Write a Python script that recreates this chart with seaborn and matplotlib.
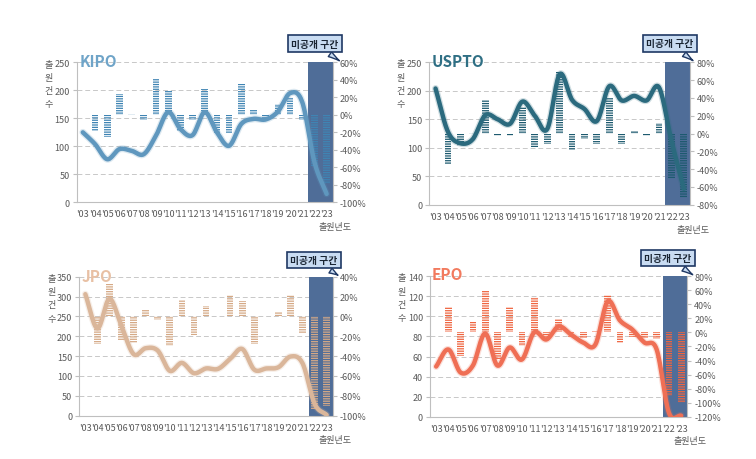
import numpy as np
import matplotlib
matplotlib.use("Agg")
import matplotlib.pyplot as plt
import matplotlib.patheffects as pe
import seaborn as sns

sns.set_style("white")
plt.rcParams['font.family'] = ['Noto Sans CJK KR', 'DejaVu Sans']
plt.rcParams['axes.unicode_minus'] = False
plt.rcParams['hatch.linewidth'] = 0.9

# --- data ---
years = ["'03", "'04", "'05", "'06", "'07", "'08", "'09", "'10", "'11", "'12", "'13",
         "'14", "'15", "'16", "'17", "'18", "'19", "'20", "'21", "'22", "'23"]

kipo_counts = [125, 104, 77, 95, 92, 86, 119, 161, 131, 120, 161, 125, 101, 140, 149, 148, 162, 195, 179, 72, 15]
kipo_growth = [0, -19, -25, 24, 0.5, -6, 41, 28, -18, -6, 30, -21, -21, 35, 6, -4, 12, 20, -6, -59, -79]

uspto_counts = [204, 128, 108, 115, 157, 150, 142, 181, 156, 133, 229, 184, 168, 147, 208, 183, 191, 183, 206, 113, 28]
uspto_growth = [0, -34, -14, 1, 38, -3, -3, 30, -15, -12, 70, -18, -6, -12, 40, -12, 3, -3, 12, -51, -72]

jpo_counts = [306, 220, 294, 225, 155, 170, 164, 113, 133, 107, 119, 118, 143, 168, 116, 119, 122, 149, 132, 30, 2]
jpo_growth = [0, -28, 33, -24, -27, 7, -4, -30, 17, -19, 10, 0.5, 22, 16, -28, 0.5, 4, 22, -17, -93, -90]

epo_counts = [50, 67, 44, 51, 83, 51, 69, 57, 84, 77, 90, 82, 74, 72, 115, 96, 87, 74, 67, 4, 1]
epo_growth = [0, 36, -34, 15, 61, -39, 36, -19, 50, -7, 19, -7, -8, 2, 53, -15, -7, -8, -9, -90, -100]

GRAY = '#595959'
SPINE = '#bfbfbf'
SHADE = '#4f6d98'


def smooth(vals, steps=16):
    # catmull-rom curve through the points (like Excel's smoothed line)
    y = np.asarray(vals, dtype=float)
    p = np.concatenate([[2 * y[0] - y[1]], y, [2 * y[-1] - y[-2]]])
    xs, ys = [], []
    t = np.linspace(0, 1, steps, endpoint=False)
    for i in range(len(y) - 1):
        p0, p1, p2, p3 = p[i], p[i + 1], p[i + 2], p[i + 3]
        seg = 0.5 * (2 * p1 + (-p0 + p2) * t + (2 * p0 - 5 * p1 + 4 * p2 - p3) * t ** 2
                     + (-p0 + 3 * p1 - 3 * p2 + p3) * t ** 3)
        xs.extend(i + t)
        ys.extend(seg)
    xs.append(len(y) - 1)
    ys.append(y[-1])
    return np.array(xs), np.array(ys)


def panel(fig, rect, name, counts, growth, lmax, lstep, rmin, rmax,
          line_c, bar_c, title_c, box_xy, tip_x, title_xy):
    ax = fig.add_axes(rect)
    axr = ax.twinx()
    axl = fig.add_axes(rect, sharex=ax, sharey=ax, label=name + "_line")
    axl.patch.set_visible(False)
    axl.axis("off")

    idx = np.arange(len(years))

    # grid + unpublished zone
    ax.set_axisbelow(True)
    ax.yaxis.grid(True, linestyle=(0, (5, 3)), color='#c8c8c8', lw=0.7)
    ax.axvspan(18.5, 20.5, color=SHADE, lw=0, zorder=2)

    # growth bars (right axis)
    sns.barplot(x=idx, y=growth, ax=axr, native_scale=True, width=0.55, color=bar_c)
    for p in axr.patches:
        p.set_facecolor('none')
        p.set_edgecolor(bar_c)
        p.set_hatch('-------')
        p.set_linewidth(0)

    # application counts (left axis), smoothed
    sx, sy = smooth(counts)
    sns.lineplot(x=sx, y=sy, ax=axl, color=line_c, lw=3.2, sort=False,
                 path_effects=[pe.Stroke(linewidth=5.0, foreground=line_c, alpha=0.22), pe.Normal()])

    ax.set_xlim(-0.5, 20.5)
    ax.set_ylim(0, lmax)
    ax.set_yticks(np.arange(0, lmax + 1, lstep))
    axr.set_ylim(rmin, rmax)
    rt = np.arange(rmin, rmax + 1, 20)
    axr.set_yticks(rt)
    axr.set_yticklabels([f"{v}%" for v in rt])

    ax.set_xticks(idx)
    ax.set_xticklabels(years)
    ax.set_xticks(np.arange(-0.5, 21, 1), minor=True)
    ax.tick_params(axis='x', which='major', length=0, labelsize=6.5, colors=GRAY, pad=5)
    ax.tick_params(axis='x', which='minor', length=3, color=SPINE, width=0.8)
    ax.tick_params(axis='y', length=3, color=SPINE, width=0.8, labelsize=6.5, colors=GRAY, pad=2)
    axr.tick_params(axis='y', length=3, color=SPINE, width=0.8, labelsize=6.5, colors=GRAY, pad=2)
    axr.set_xlabel("")
    axr.set_ylabel("")

    for s in ['top', 'right']:
        ax.spines[s].set_visible(False)
    for s in ['left', 'bottom']:
        ax.spines[s].set_color(SPINE)
        ax.spines[s].set_linewidth(0.8)
    for s in ['top', 'left', 'bottom']:
        axr.spines[s].set_visible(False)
    axr.spines['right'].set_color(SPINE)
    axr.spines['right'].set_linewidth(0.8)

    ax.set_ylabel("출\n원\n건\n수", rotation=0, fontsize=6.5, color=GRAY,
                  va='top', ha='center', linespacing=1.6)
    ax.yaxis.set_label_coords(-0.11, 1.02)
    ax.set_xlabel("출원년도", fontsize=6.5, color=GRAY)
    ax.xaxis.set_label_coords(1.01, -0.14)

    ax.text(title_xy[0], title_xy[1], name, transform=ax.transAxes, fontsize=11,
            fontweight='bold', color=title_c, va='baseline', ha='left', zorder=5)

    ax.annotate("미공개 구간", xy=(tip_x, 1.0), xycoords='axes fraction',
                xytext=box_xy, textcoords='axes fraction', ha='center', va='center',
                fontsize=7, fontweight='bold', color='#1a2533',
                bbox=dict(boxstyle='square,pad=0.35', fc='#c9dcf2', ec='#1f3864', lw=1.2),
                arrowprops=dict(arrowstyle='wedge,tail_width=0.6,shrink_factor=0.4',
                                fc='#c9dcf2', ec='#1f3864', lw=1.0),
                annotation_clip=False, zorder=10)
    return ax


fig = plt.figure(figsize=(7.56, 4.6), dpi=100)

panel(fig, [0.1015, 0.558, 0.3386, 0.3043], "KIPO", kipo_counts, kipo_growth,
      250, 50, -100, 60, '#5f97be', '#3f84b3', '#6fa4c8', (0.93, 1.134), 1.035, (0.012, 0.975))
panel(fig, [0.5679, 0.5528, 0.3448, 0.3096], "USPTO", uspto_counts, uspto_growth,
      250, 50, -80, 80, '#2b6a7e', '#1d5a6f', '#2f6f84', (0.923, 1.132), 1.02, (0.008, 0.975))
panel(fig, [0.1049, 0.0941, 0.3352, 0.3022], "JPO", jpo_counts, jpo_growth,
      350, 50, -100, 40, '#dab69a', '#d5a986', '#e8c0a4', (0.926, 1.12), 1.03, (0.01, 0.97))
panel(fig, [0.5688, 0.0920, 0.3403, 0.3052], "EPO", epo_counts, epo_growth,
      140, 20, -120, 80, '#ef6f55', '#ef6540', '#f27a5e', (0.925, 1.13), 1.03, (0.005, 0.98))

fig.savefig("out.png", dpi=100)
